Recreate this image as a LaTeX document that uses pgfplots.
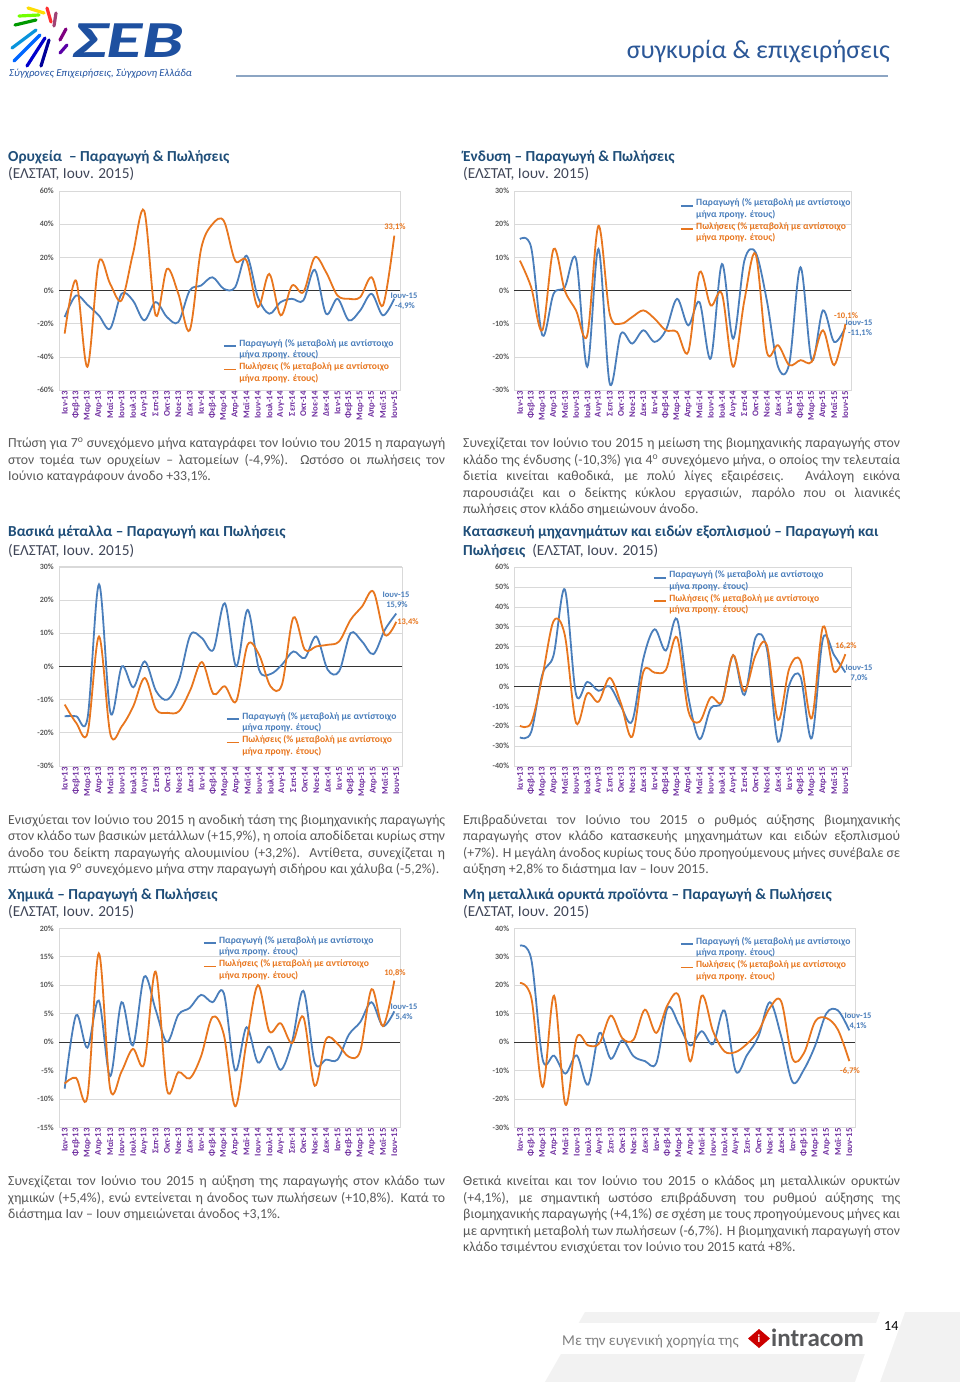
\documentclass[border=0pt]{standalone}
\usepackage{pgfplots}
\usepackage{pgfplotstable}
\pgfplotsset{compat=1.18}
\usepackage{graphicx}
\usepackage{fontspec}
\setmainfont{Carlito}

\definecolor{prod}{RGB}{74,126,187}
\definecolor{sales}{RGB}{232,118,30}
\definecolor{ttl}{RGB}{31,78,121}
\definecolor{subt}{RGB}{64,70,88}
\definecolor{bodyc}{RGB}{89,89,89}
\definecolor{mon}{RGB}{112,48,160}
\definecolor{tickc}{RGB}{89,89,89}
\definecolor{grd}{RGB}{217,217,217}
\definecolor{sevblue}{RGB}{30,80,160}
\definecolor{hdr}{RGB}{43,87,151}

\newcommand{\bodyfont}{\fontsize{13.8}{16.5}\selectfont}
\newcommand{\ttlfont}{\fontsize{15.3}{17}\selectfont}
\newcommand{\annfont}{\fontsize{8.5}{9.5}\selectfont\bfseries}

% m = month index, p = production, s = sales (% change)
\pgfplotstableread{
m p s
0 -16 -26
1 -3 6
2 -8.6 -46
3 -15 17
4 -23 4
5 -2 -6
6 -6 22
7 -18 48
8 -7 -15
9 -16 13
10 -19 -2
11 0 -24
12 3 25
13 8 40
14 1 42
15 2 18
16 21 18
17 -4 -10
18 -14 10
19 -7 -15
20 -5 3
21 -6 -1
22 12.5 20
23 -14 11
24 -5 -3
25 -18 -5
26 -12 -4
27 -2 8
28 -15 -9
29 -4.9 33.1
}\tOr

\pgfplotstableread{
m p s
0 15.5 9
1 13 1
2 -13.5 -12
3 -1 12.5
4 1 0
5 9.5 -6
6 -23 -13.5
7 12.5 19.5
8 -28 -7
9 -13 -10
10 -16 -8
11 -12 -6
12 -15.5 -8.5
13 -12 -12
14 -2.5 -12.5
15 -10.5 -18.5
16 -3.5 5.5
17 -20.5 -4.5
18 8 -1
19 -14.5 -23
20 9 -3
21 11.5 11
22 -3 -18.5
23 -23 -16.5
24 -22 -22.5
25 7 -21
26 -21 -21.5
27 -6 -12
28 -15.5 -22.5
29 -11.1 -10.1
}\tEn

\pgfplotstableread{
m p s
0 -15 -11.5
1 -15 -17
2 -15.5 -20
3 24.7 9
4 -14 -20.5
5 0 -18
6 -6.3 -12
7 1.5 -3.5
8 -7.5 -13
9 -10 -14
10 -4 -13.5
11 9.5 -7
12 8.5 1.3
13 5 -8.3
14 19 -6
15 0 -10.5
16 17 6.5
17 -1 3.5
18 -2.3 -6
19 0.5 -5.5
20 4.5 14.7
21 2.5 5
22 9 6
23 -1 6.5
24 -1.5 7.5
25 10 14
26 7.5 18
27 3.7 22.5
28 11 9.5
29 15.9 13.4
}\tBm

\pgfplotstableread{
m p s
0 -25.6 -19.8
1 -23 -18.3
2 6 5
3 15.7 32.8
4 48.7 25.8
5 -4 -18.3
6 2.3 -3.5
7 -2.2 -7.7
8 0 4.3
9 -10 -8.5
10 -17.5 -25.3
11 14 7.4
12 28.7 6.9
13 18 8.2
14 33.8 24.6
15 -5 -12.2
16 -26.5 -17.8
17 -11 -5.5
18 -7.7 -7.7
19 15.7 15.7
20 -4.3 -2.3
21 24.6 15.7
22 19 20.8
23 -27.8 -16.9
24 0.7 9
25 4.8 12.9
26 -26 -16
27 24 30
28 15.7 7.4
29 7.0 16.2
}\tMa

\pgfplotstableread{
m p s
0 -8.2 -7.3
1 4.7 -6.3
2 -1 -9.6
3 7.3 15.6
4 -6 -8.2
5 7 -5.2
6 -0.6 -1.2
7 11.5 -3.8
8 5.7 12.4
9 0 -8.4
10 4.8 -5.3
11 6 -6.4
12 8.3 -2.5
13 7 4.4
14 8.6 1.3
15 -5 -11.3
16 2.6 0
17 -3.6 10
18 -0.8 1.9
19 -4.9 3.3
20 0 -0.2
21 9 4.4
22 -3.6 -7.7
23 -3.1 0.5
24 -3.1 -0.3
25 1.3 -2.6
26 3.5 -1.6
27 7 9.3
28 2.8 2.8
29 5.4 10.8
}\tCh

\pgfplotstableread{
m p s
0 33.9 20.8
1 29 15.5
2 -6.2 -15.8
3 -4.8 16.3
4 -11.1 -22
5 -4.7 1.6
6 -15 -1.2
7 3.2 -0.4
8 -5.9 9.3
9 0.6 1.4
10 -5 0.8
11 -6.7 11.4
12 -7.4 3.2
13 12 13.1
14 6.1 16.1
15 -1.2 -6.8
16 3.8 16.3
17 -0.7 3.8
18 11.1 -3.3
19 -10.3 -3.5
20 -4.5 -0.6
21 2 3.8
22 14 12
23 2 14.3
24 -14.1 -5.9
25 -9.7 -3.9
26 -1.2 7.3
27 10.2 8.4
28 11.1 4.3
29 4.1 -6.7
}\tNm

\pgfplotsset{
  sev/.style={
    scale only axis,
    xmin=-0.5, xmax=29.5,
    xtick={0,...,29},
    xticklabels={Ιαν-13,Φεβ-13,Μαρ-13,Απρ-13,Μαϊ-13,Ιουν-13,Ιουλ-13,Αυγ-13,Σεπ-13,Οκτ-13,Νοε-13,Δεκ-13,Ιαν-14,Φεβ-14,Μαρ-14,Απρ-14,Μαϊ-14,Ιουν-14,Ιουλ-14,Αυγ-14,Σεπ-14,Οκτ-14,Νοε-14,Δεκ-14,Ιαν-15,Φεβ-15,Μαρ-15,Απρ-15,Μαϊ-15,Ιουν-15},
    x tick label style={rotate=90, anchor=east, font=\fontsize{8.8}{9.5}\selectfont\bfseries, text=mon, inner sep=1pt},
    yticklabel={\pgfmathprintnumber[assume math mode=true]{\tick}\%},
    y tick label style={font=\fontsize{8}{9}\selectfont\bfseries, text=tickc, inner sep=1pt, xshift=-4pt},
    axis line style={grd},
    major tick length=0pt,
    ymajorgrids, grid style={grd, line width=0.6pt},
    extra y ticks={0}, extra y tick labels={},
    extra y tick style={grid style={black!80, line width=1pt}},
    legend style={draw=none, fill=none, anchor=north west,
      font=\fontsize{9.6}{11.7}\selectfont\bfseries,
      nodes={align=left, inner sep=0.5pt}, row sep=2pt, column sep=1.5pt},
    legend cell align=left,
    legend image code/.code={\draw[##1, line width=1.6pt] (0pt,3pt) -- (12.5pt,3pt);},
  },
  pline/.style={prod, line width=1.8pt, smooth, tension=0.55},
  sline/.style={sales, line width=1.8pt, smooth, tension=0.55},
}

\newcommand{\legs}{%
  \addlegendentry[text=prod]{Παραγωγή (\% μεταβολή με αντίστοιχο\\μήνα προηγ. έτους)}%
  \addlegendentry[text=sales]{Πωλήσεις (\% μεταβολή με αντίστοιχο\\μήνα προηγ. έτους)}}

\begin{document}
\begin{tikzpicture}[x=1pt, y=-1pt]
\useasboundingbox (0,0) rectangle (960,1382);
\fill[white] (0,0) rectangle (960,1382);

% ---------- header ----------
\begin{scope}[line cap=round, line width=3.2pt]
\draw[green!60!black] (15,25) -- (36,20);
\draw[green!55!yellow] (19,16) -- (39,15);
\draw[yellow!80!orange] (28,8) -- (44,13);
\draw[red!75!pink] (47,8) -- (51,22);
\draw[magenta!60!black] (56,13) -- (54,26);
\draw[violet] (66,29) -- (60,40);
\draw[violet!70!blue] (67,45) -- (60,53);
\draw[cyan!80!blue] (12,48) -- (36,30);
\draw[blue!60!cyan] (14,61) -- (40,35);
\draw[blue!80!black] (27,66) -- (45,38);
\draw[blue!60!black] (41,66) -- (49,40);
\end{scope}
\node[anchor=base west, inner sep=0, text=sevblue] at (72,57)
  {\scalebox{1.42}[1]{\fontsize{52}{52}\selectfont\bfseries\itshape ΣΕΒ}};
\node[anchor=base west, inner sep=0, text=sevblue] at (9,76)
  {\fontsize{10.6}{11}\selectfont\itshape Σύγχρονες Επιχειρήσεις, Σύγχρονη Ελλάδα};
\node[anchor=base east, inner sep=0, text=hdr] at (890,58)
  {\fontsize{26}{28}\selectfont συγκυρία \& επιχειρήσεις};
\draw[line width=1.6pt, color={rgb,255:red,140;green,165;blue,195}] (236,76) -- (888,76);

% ---------- titles ----------
\begin{scope}[every node/.style={anchor=base west, inner sep=0}]
\node[text=ttl] at (8,161) {\ttlfont\bfseries Ορυχεία \ – Παραγωγή \& Πωλήσεις};
\node[text=subt] at (8,178.5) {\ttlfont (ΕΛΣΤΑΤ, Ιουν. 2015)};
\node[text=ttl] at (463,161) {\ttlfont\bfseries Ένδυση – Παραγωγή \& Πωλήσεις};
\node[text=subt] at (463,178.5) {\ttlfont (ΕΛΣΤΑΤ, Ιουν. 2015)};
\node[text=ttl] at (8,536.7) {\ttlfont\bfseries Βασικά μέταλλα – Παραγωγή και Πωλήσεις};
\node[text=subt] at (8,555) {\ttlfont (ΕΛΣΤΑΤ, Ιουν. 2015)};
\node[text=ttl] at (463,536.7) {\ttlfont\bfseries Κατασκευή μηχανημάτων και ειδών εξοπλισμού – Παραγωγή και};
\node[text=subt] at (463,555) {\ttlfont\textcolor{ttl}{\bfseries Πωλήσεις}\ \ (ΕΛΣΤΑΤ, Ιουν. 2015)};
\node[text=ttl] at (8,899) {\ttlfont\bfseries Χημικά – Παραγωγή \& Πωλήσεις};
\node[text=subt] at (8,916.7) {\ttlfont (ΕΛΣΤΑΤ, Ιουν. 2015)};
\node[text=ttl] at (463,899) {\ttlfont\bfseries Μη μεταλλικά ορυκτά προϊόντα – Παραγωγή \& Πωλήσεις};
\node[text=subt] at (463,916.7) {\ttlfont (ΕΛΣΤΑΤ, Ιουν. 2015)};
\end{scope}

% ---------- body text ----------
\begin{scope}[every node/.style={anchor=north west, inner sep=0, text width=437pt, align=justify, text=bodyc, font=\bodyfont}]
\node at (8,436) {\strut Πτώση για 7\textsuperscript{ο} συνεχόμενο μήνα καταγράφει τον Ιούνιο του 2015 η παραγωγή\linebreak στον τομέα των ορυχείων – λατομείων (-4,9\%). Ωστόσο οι πωλήσεις τον\linebreak Ιούνιο καταγράφουν άνοδο +33,1\%.};
\node at (463,436) {\strut Συνεχίζεται τον Ιούνιο του 2015 η μείωση της βιομηχανικής παραγωγής στον\linebreak κλάδο της ένδυσης (-10,3\%) για 4\textsuperscript{ο} συνεχόμενο μήνα, ο οποίος την τελευταία\linebreak διετία κινείται καθοδικά, με πολύ λίγες εξαιρέσεις. Ανάλογη εικόνα\linebreak παρουσιάζει και ο δείκτης κύκλου εργασιών, παρόλο που οι λιανικές\linebreak πωλήσεις στον κλάδο σημειώνουν άνοδο.};
\node at (8,812.5) {\strut Ενισχύεται τον Ιούνιο του 2015 η ανοδική τάση της βιομηχανικής παραγωγής\linebreak στον κλάδο των βασικών μετάλλων (+15,9\%), η οποία αποδίδεται κυρίως στην\linebreak άνοδο του δείκτη παραγωγής αλουμινίου (+3,2\%). Αντίθετα, συνεχίζεται η\linebreak πτώση για 9\textsuperscript{ο} συνεχόμενο μήνα στην παραγωγή σιδήρου και χάλυβα (-5,2\%).};
\node at (463,812.5) {\strut Επιβραδύνεται τον Ιούνιο του 2015 ο ρυθμός αύξησης βιομηχανικής\linebreak παραγωγής στον κλάδο κατασκευής μηχανημάτων και ειδών εξοπλισμού\linebreak (+7\%). Η μεγάλη άνοδος κυρίως τους δύο προηγούμενους μήνες συνέβαλε σε\linebreak αύξηση +2,8\% το διάστημα Ιαν – Ιουν 2015.};
\node at (8,1174) {\strut Συνεχίζεται τον Ιούνιο του 2015 η αύξηση της παραγωγής στον κλάδο των\linebreak χημικών (+5,4\%), ενώ εντείνεται η άνοδος των πωλήσεων (+10,8\%). Κατά το\linebreak διάστημα Ιαν – Ιουν σημειώνεται άνοδος +3,1\%.};
\node at (463,1174) {\strut Θετικά κινείται και τον Ιούνιο του 2015 ο κλάδος μη μεταλλικών ορυκτών\linebreak (+4,1\%), με σημαντική ωστόσο επιβράδυνση του ρυθμού αύξησης της\linebreak βιομηχανικής παραγωγής (+4,1\%) σε σχέση με τους προηγούμενους μήνες και\linebreak με αρνητική μεταβολή των πωλήσεων (-6,7\%). Η βιομηχανική παραγωγή στον\linebreak κλάδο τσιμέντου ενισχύεται τον Ιούνιο του 2015 κατά +8\%.};
\end{scope}

% ---------- charts ----------
\begin{axis}[sev, at={(59pt,-390pt)}, anchor=south west, width=341pt, height=199pt,
  ymin=-60, ymax=60, ytick={-60,-40,...,60}, legend style={at={(0.472,0.27)}}]
\addplot[pline] table[x=m, y=p] {\tOr};
\addplot[sline] table[x=m, y=s] {\tOr};
\legs
\end{axis}

\begin{axis}[sev, at={(514.3pt,-390pt)}, anchor=south west, width=336.7pt, height=199pt,
  ymin=-30, ymax=30, ytick={-30,-20,...,30}, legend style={at={(0.483,0.975)}}]
\addplot[pline] table[x=m, y=p] {\tEn};
\addplot[sline] table[x=m, y=s] {\tEn};
\legs
\end{axis}

\begin{axis}[sev, at={(59pt,-766pt)}, anchor=south west, width=343pt, height=199.3pt,
  ymin=-30, ymax=30, ytick={-30,-20,...,30}, legend style={at={(0.478,0.285)}}]
\addplot[pline] table[x=m, y=p] {\tBm};
\addplot[sline] table[x=m, y=s] {\tBm};
\legs
\end{axis}

\begin{axis}[sev, at={(514.3pt,-766pt)}, anchor=south west, width=336.7pt, height=199pt,
  ymin=-40, ymax=60, ytick={-40,-30,...,60}, legend style={at={(0.403,0.995)}}]
\addplot[pline] table[x=m, y=p] {\tMa};
\addplot[sline] table[x=m, y=s] {\tMa};
\legs
\end{axis}

\begin{axis}[sev, at={(59pt,-1127.3pt)}, anchor=south west, width=341pt, height=199pt,
  ymin=-15, ymax=20, ytick={-15,-10,...,20}, legend style={at={(0.413,0.975)}}]
\addplot[pline] table[x=m, y=p] {\tCh};
\addplot[sline] table[x=m, y=s] {\tCh};
\legs
\end{axis}

\begin{axis}[sev, at={(514.3pt,-1127.3pt)}, anchor=south west, width=340.7pt, height=199pt,
  ymin=-30, ymax=40, ytick={-30,-20,...,40}, legend style={at={(0.477,0.97)}}]
\addplot[pline] table[x=m, y=p] {\tNm};
\addplot[sline] table[x=m, y=s] {\tNm};
\legs
\end{axis}

% ---------- end-point labels ----------
\begin{scope}[every node/.style={inner sep=0, font=\annfont}]
\node[text=sales] at (395,227) {33,1\%};
\node[text=prod] at (404,296) {Ιουν-15};
\node[text=prod] at (405,306) {-4,9\%};
\node[text=sales] at (846,316) {-10,1\%};
\node[text=prod] at (859,323) {Ιουν-15};
\node[text=prod] at (860,333) {-11,1\%};
\node[text=prod] at (396,595) {Ιουν-15};
\node[text=prod] at (397,605) {15,9\%};
\node[text=sales] at (408,622) {13,4\%};
\node[text=sales] at (846,646) {16,2\%};
\node[text=prod] at (859,668) {Ιουν-15};
\node[text=prod] at (859,678) {7,0\%};
\node[text=sales] at (395,973) {10,8\%};
\node[text=prod] at (404,1007) {Ιουν-15};
\node[text=prod] at (404,1017) {5,4\%};
\node[text=prod] at (858,1016) {Ιουν-15};
\node[text=prod] at (858,1026) {4,1\%};
\node[text=sales] at (850,1071) {-6,7\%};
\end{scope}

% ---------- footer ----------
\fill[gray!10] (545,1382) -- (585,1312) -- (960,1312) -- (960,1382) -- cycle;
\fill[white] (880,1312) -- (905,1312) -- (880,1382) -- (855,1382) -- cycle;
\fill[white] (552,1323) rectangle (877,1354);
\node[anchor=base west, inner sep=0, text=gray] at (562,1345)
  {\fontsize{15}{16}\selectfont Με την ευγενική χορηγία της};
\fill[red!80!black] (759,1329) -- (770,1338.5) -- (759,1348) -- (748,1338.5) -- cycle;
\node[inner sep=0, text=white] at (759,1338.5) {\fontsize{11}{11}\selectfont\bfseries i};
\node[anchor=base west, inner sep=0, text={rgb,255:red,88;green,89;blue,91}] at (771,1346)
  {\fontsize{25}{25}\selectfont\bfseries intracom};
\node[anchor=base west, inner sep=0] at (884,1330) {\fontsize{14}{14}\selectfont 14};
\end{tikzpicture}
\end{document}
